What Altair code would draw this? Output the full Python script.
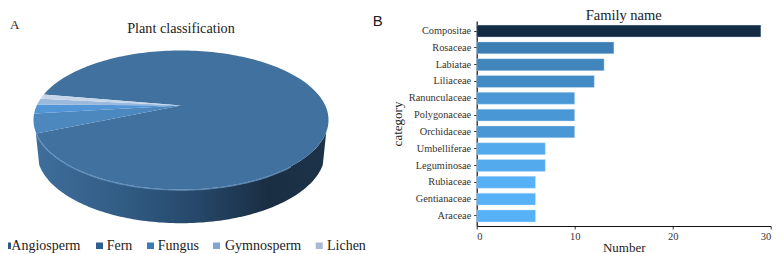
import numpy as np
import pandas as pd
import altair as alt

# ---- data
pie_names = ["Angiosperm", "Fern", "Fungus", "Gymnosperm", "Lichen"]
pie_values = [90.9, 4.6, 2.1, 1.4, 1.0]
pie_colors = ["#41719f", "#4c87be", "#5396d8", "#9ab9dc", "#c6d6ea"]
swatch_colors = ["#2f5a85", "#2f5f90", "#3a7ab8", "#7fa5d0", "#a9b9d6"]
families = ["Compositae", "Rosaceae", "Labiatae", "Liliaceae", "Ranunculaceae", "Polygonaceae",
            "Orchidaceae", "Umbelliferae", "Leguminosae", "Rubiaceae", "Gentianaceae", "Araceae"]
counts = [29, 14, 13, 12, 10, 10, 10, 7, 7, 6, 6, 6]

SERIF = "Liberation Serif"
PANEL_W, PANEL_H = 360, 205
RX = 147.5
RY = 69.5 / RX
APEX_Y = 14.5 / RX
BOT_RX = 144 / RX
BOT_RY = 70.7 / RX
BOT_CY = -32.5 / RX
START_DEG = 158.5


def rim(t):
    return np.cos(t), RY * np.sin(t)


def feature(coords, name, kind="Polygon"):
    c = [[float(a), float(b)] for a, b in coords]
    geom = {"type": "Polygon", "coordinates": [c]} if kind == "Polygon" else {"type": "LineString", "coordinates": c}
    return {"type": "Feature", "properties": {"name": name}, "geometry": geom}


# slices follow the values clockwise, Angiosperm first
edges = START_DEG - np.concatenate([[0], np.cumsum(pie_values)]) * 3.6
slices = []
for i, name in enumerate(pie_names):
    t = np.radians(np.linspace(edges[i], edges[i + 1], 240 if i == 0 else 24))
    x, y = rim(t)
    pts = [(0, APEX_Y)] + list(zip(x, y)) + [(0, APEX_Y)]
    slices.append(feature(pts, name))

# side wall
tt = np.radians(np.linspace(190, 350, 120))
xa, ya = rim(tt)
xb, yb = BOT_RX * np.cos(tt), BOT_CY + BOT_RY * np.sin(tt)
wall = [feature(list(zip(xa, ya)) + list(zip(xb[::-1], yb[::-1])) + [(xa[0], ya[0])], "wall")]
tr = np.radians(np.linspace(192, 318, 100))
xr, yr = rim(tr)
rim_line = [feature(list(zip(xr, yr - 0.004)), "rim", "LineString")]

projection = dict(type="identity", reflectY=True, scale=RX, translate=[173, 99])

wall_layer = alt.Chart(alt.Data(values=wall)).mark_geoshape(
    strokeWidth=0,
    fill=alt.Gradient(gradient="linear", x1=0, x2=1, y1=0, y2=0, stops=[
        alt.GradientStop(color="#3f6e9c", offset=0),
        alt.GradientStop(color="#315c84", offset=0.3),
        alt.GradientStop(color="#26486a", offset=0.55),
        alt.GradientStop(color="#1a2e43", offset=0.8),
        alt.GradientStop(color="#1d3349", offset=1),
    ]),
).project(**projection)

slice_layer = alt.Chart(alt.Data(values=slices)).mark_geoshape(strokeWidth=0).encode(
    fill=alt.Fill("properties.name:N", scale=alt.Scale(domain=pie_names, range=pie_colors), legend=None)
).project(**projection)

rim_layer = alt.Chart(alt.Data(values=rim_line)).mark_geoshape(
    filled=False, stroke="#6b9ccb", strokeWidth=1.2, strokeOpacity=0.8
).project(**projection)

# legend row, laid out to the reference's spacing
legend_layout = pd.DataFrame({
    "name": pie_names,
    "sx": [0, 88, 139, 205, 307.7],
    "sx2": [3, 95, 146, 212, 314.7],
    "tx": [3.3, 98.7, 149.7, 217, 319],
})
px_scale = alt.Scale(domain=[0, PANEL_W], range=[0, PANEL_W], nice=False, zero=False)
sw = alt.Chart(legend_layout).mark_rect().encode(
    x=alt.X("sx:Q", scale=px_scale, axis=None), x2="sx2:Q",
    y=alt.value(221.5), y2=alt.value(228),
    fill=alt.Fill("name:N", scale=alt.Scale(domain=pie_names, range=swatch_colors), legend=None),
)
lt = alt.Chart(legend_layout).mark_text(font=SERIF, fontSize=14, align="left", baseline="alphabetic", color="#222222").encode(
    x=alt.X("tx:Q", scale=px_scale, axis=None), y=alt.value(229), text="name:N",
)
title_a = alt.Chart(pd.DataFrame({"t": ["Plant classification"]})).mark_text(
    font=SERIF, fontSize=14.2, align="center", baseline="alphabetic", color="#222222"
).encode(x=alt.value(173), y=alt.value(12), text="t:N")
letter_a = alt.Chart(pd.DataFrame({"t": ["A"]})).mark_text(
    font=SERIF, fontSize=13, align="left", baseline="alphabetic", color="#222222"
).encode(x=alt.value(2), y=alt.value(7.5), text="t:N")

left = alt.layer(wall_layer, slice_layer, rim_layer, sw, lt, title_a, letter_a).resolve_scale(fill="independent").properties(
    width=PANEL_W, height=PANEL_H
)

bars_df = pd.DataFrame({"family": families, "count": counts})
bars = alt.Chart(bars_df).mark_bar(stroke="#cfe6fa", strokeWidth=0.5, strokeOpacity=0.8).encode(
    x=alt.X("count:Q", scale=alt.Scale(domain=[0, 30], nice=False),
            axis=alt.Axis(values=[0, 10, 20, 30], title="Number", grid=False, domainColor="#111111",
                          domainWidth=1.2, tickColor="#333333", tickSize=3, labelFont=SERIF, labelFontSize=10.5,
                          labelColor="#333333", titleFont=SERIF, titleFontSize=13, titleFontWeight="normal",
                          titleColor="#222222", titlePadding=0, labelPadding=2)),
    y=alt.Y("family:N", sort=families, scale=alt.Scale(paddingInner=0.29, paddingOuter=0.245),
            axis=alt.Axis(title="category", domainColor="#111111", domainWidth=1.2, tickColor="#333333",
                          tickSize=3, labelFont=SERIF, labelFontSize=10.3, labelColor="#333333", labelPadding=3,
                          titleFont=SERIF, titleFontSize=13, titleFontWeight="normal", titleColor="#222222",
                          titlePadding=4)),
    color=alt.Color("count:Q", scale=alt.Scale(domain=[6, 29], range=["#56B1F7", "#132B43"], interpolate="lab"),
                    legend=None),
)
title_b = alt.Chart(pd.DataFrame({"t": ["Family name"]})).mark_text(
    font=SERIF, fontSize=14.5, align="center", baseline="alphabetic", color="#222222"
).encode(x=alt.value(147), y=alt.value(-0.8), text="t:N")
letter_b = alt.Chart(pd.DataFrame({"t": ["B"]})).mark_text(
    font="Liberation Sans", fontSize=15, align="left", baseline="alphabetic", color="#222222"
).encode(x=alt.value(-104), y=alt.value(5), text="t:N")
right = alt.layer(bars, title_b, letter_b).properties(width=294, height=PANEL_H)

chart = alt.hconcat(left, right, spacing=108.7, bounds="flush",
                    padding={"left": 0, "top": 0, "right": 0, "bottom": 0}).configure_view(strokeWidth=0)

chart.save("out.html", embed_options={"renderer": "svg", "actions": False})
